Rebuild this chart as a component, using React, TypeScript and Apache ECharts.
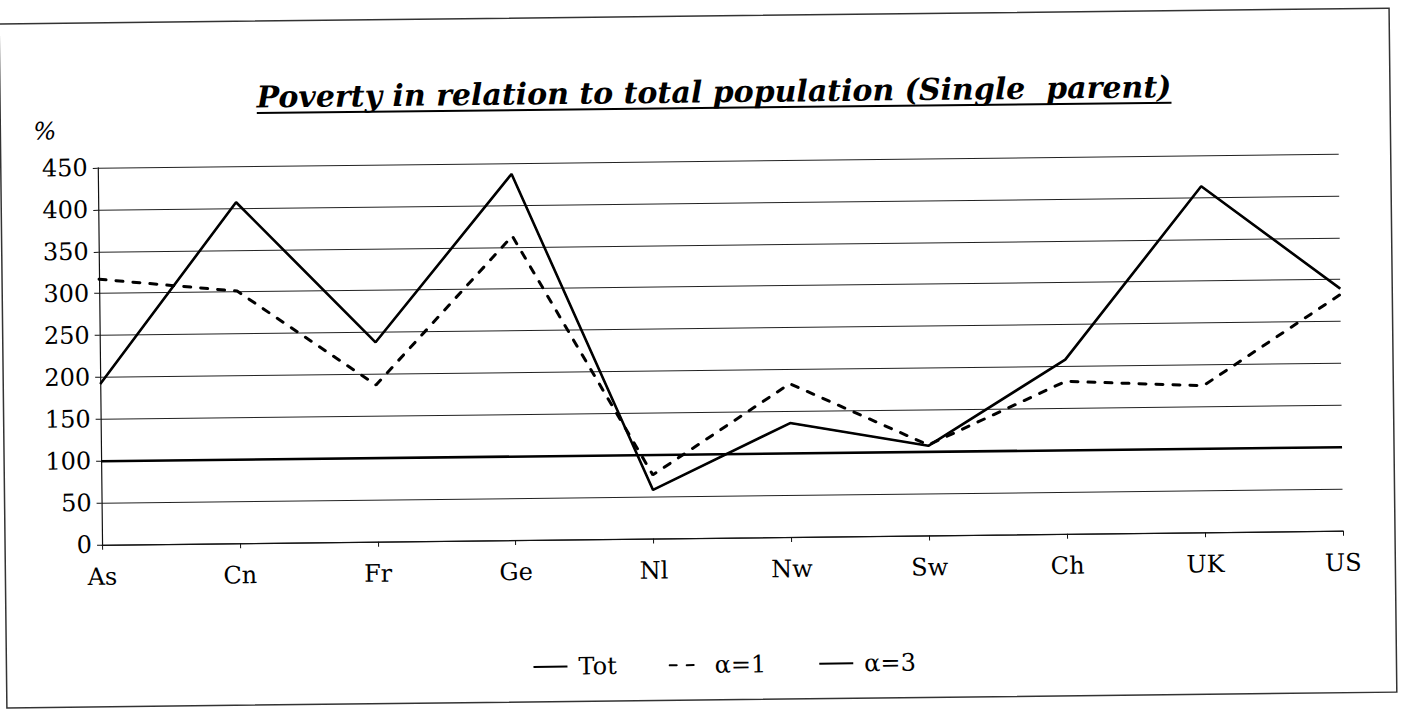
import React, { useEffect, useRef } from "react";
import * as echarts from "echarts";

const categories = ["As", "Cn", "Fr", "Ge", "Nl", "Nw", "Sw", "Ch", "UK", "US"];
const totValues = [192, 407, 238, 437, 58, 136, 107, 208, 413, 289];
const alpha1Values = [317, 301, 187, 363, 76, 183, 108, 182, 175, 282];
const alpha3Values = [192, 407, 238, 437, 58, 136, 107, 208, 413, 289];
const seriesNames = ["Tot", "α=1", "α=3"];
const yMin = 0;
const yMax = 450;
const yInterval = 50;
const referenceLine = 100;
const titleText = "Poverty in relation to total population (Single  parent)";
const yUnit = "%";

const FONT = "'DejaVu Serif', serif";
const TITLE_SIZE = 30;
const TITLE_CX = 717;
const TITLE_CY = 92;

export default function App() {
  const ref = useRef<HTMLDivElement>(null);

  useEffect(() => {
    if (!ref.current) return;
    const chart = echarts.init(ref.current, undefined, { renderer: "svg" });

    let titleWidth = 935;
    const ctx = document.createElement("canvas").getContext("2d");
    if (ctx) {
      ctx.font = `italic bold ${TITLE_SIZE}px 'DejaVu Serif'`;
      titleWidth = ctx.measureText(titleText).width;
    }

    const option: any = {
      animation: false,
      backgroundColor: "#fff",
      grid: { left: 100, right: 60, top: 161, bottom: 181, containLabel: false },
      legend: {
        top: 648,
        left: 524,
        itemWidth: 34,
        itemHeight: 14,
        itemGap: 52,
        data: seriesNames,
        itemStyle: { opacity: 0 },
        textStyle: {
          fontFamily: FONT,
          fontSize: 24,
          color: "#000",
          padding: [0, 0, 0, 6],
        },
      },
      xAxis: {
        type: "category",
        boundaryGap: false,
        data: categories,
        axisLine: { lineStyle: { color: "#111", width: 1.2 } },
        axisTick: { show: true, length: 5, lineStyle: { color: "#111" } },
        axisLabel: { fontFamily: FONT, fontSize: 24, color: "#000", margin: 20 },
        splitLine: { show: false },
      },
      yAxis: {
        type: "value",
        min: yMin,
        max: yMax,
        interval: yInterval,
        axisLine: { show: true, lineStyle: { color: "#111", width: 1.2 } },
        axisTick: { show: true, length: 5, lineStyle: { color: "#111" } },
        axisLabel: { fontFamily: FONT, fontSize: 24, color: "#000", margin: 10 },
        splitLine: { show: true, lineStyle: { color: "#222", width: 1 } },
      },
      graphic: [
        {
          type: "rect",
          shape: { x: 3, y: 16, width: 1390, height: 684 },
          style: { fill: "none", stroke: "#333", lineWidth: 1.5 },
          silent: true,
        },
        {
          type: "text",
          x: TITLE_CX,
          y: TITLE_CY,
          style: {
            text: titleText,
            fontFamily: FONT,
            fontSize: TITLE_SIZE,
            fontStyle: "italic",
            fontWeight: "bold",
            fill: "#000",
            textAlign: "center",
            textVerticalAlign: "middle",
          },
        },
        {
          type: "rect",
          shape: { x: TITLE_CX - titleWidth / 2, y: 107, width: titleWidth, height: 2 },
          style: { fill: "#000" },
          silent: true,
        },
        {
          type: "text",
          x: 36,
          y: 124,
          style: {
            text: yUnit,
            fontFamily: FONT,
            fontSize: 24,
            fontStyle: "italic",
            fill: "#000",
            textAlign: "left",
            textVerticalAlign: "middle",
          },
        },
      ],
      series: [
        {
          name: seriesNames[0],
          type: "line",
          data: totValues,
          symbol: "none",
          showSymbol: false,
          lineStyle: { color: "#000", width: 2.6 },
          itemStyle: { color: "#000", opacity: 0 },
          z: 3,
          markLine: {
            silent: true,
            symbol: "none",
            label: { show: false },
            lineStyle: { color: "#000", width: 2.6, type: "solid" },
            data: [{ yAxis: referenceLine }],
          },
        },
        {
          name: seriesNames[1],
          type: "line",
          data: alpha1Values,
          symbol: "none",
          showSymbol: false,
          lineStyle: { color: "#000", width: 3, type: [7, 10], cap: "round" },
          itemStyle: { color: "#000", opacity: 0 },
          z: 2,
        },
        {
          name: seriesNames[2],
          type: "line",
          data: alpha3Values,
          symbol: "none",
          showSymbol: false,
          lineStyle: { color: "#000", width: 1.2 },
          itemStyle: { color: "#000", opacity: 0 },
          z: 4,
        },
      ],
    };

    chart.setOption(option);
    return () => {
      chart.dispose();
    };
  }, []);

  return (
    <div
      ref={ref}
      style={{
        position: "absolute",
        left: 0,
        top: 0,
        width: 1401,
        height: 719,
        transform: "rotate(-0.65deg)",
        background: "#fff",
      }}
    />
  );
}
